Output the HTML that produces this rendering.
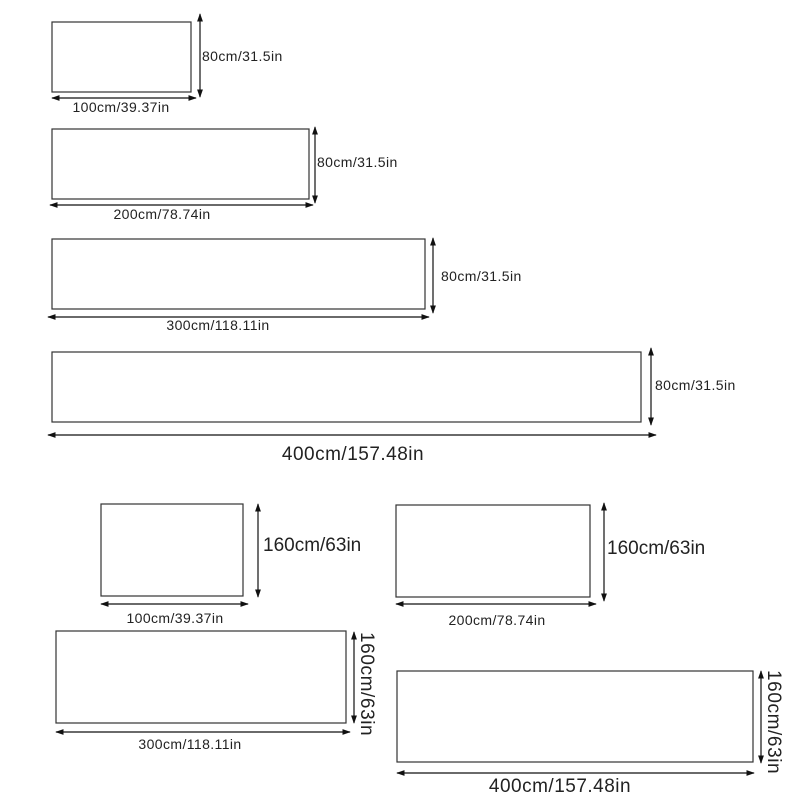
<!DOCTYPE html>
<html><head><style>body{margin:0;background:#fff}svg{display:block}text{font-family:"Liberation Sans",sans-serif;fill:#222}</style></head><body>
<svg width="800" height="800" viewBox="0 0 800 800" xmlns="http://www.w3.org/2000/svg">
<defs><marker id="a" viewBox="0 0 10 10" refX="9" refY="5" markerWidth="7" markerHeight="7" orient="auto-start-reverse"><path d="M0,1.5 L10,5 L0,8.5z" fill="#111"/></marker></defs>
<g fill="none" stroke="#333" stroke-width="1.2">
<rect x="52" y="22" width="139" height="70"/>
<rect x="52" y="129" width="257" height="70"/>
<rect x="52" y="239" width="373" height="70"/>
<rect x="52" y="352" width="589" height="70"/>
<rect x="101" y="504" width="142" height="92"/>
<rect x="396" y="505" width="194" height="92"/>
<rect x="56" y="631" width="290" height="92"/>
<rect x="397" y="671" width="356" height="91"/>
</g>
<g stroke="#111" stroke-width="1.2" marker-start="url(#a)" marker-end="url(#a)">
<line x1="200" y1="14" x2="200" y2="97"/><line x1="52" y1="98" x2="196" y2="98"/>
<line x1="315" y1="127" x2="315" y2="203"/><line x1="50" y1="205" x2="313" y2="205"/>
<line x1="433" y1="238" x2="433" y2="313"/><line x1="48" y1="317" x2="429" y2="317"/>
<line x1="651" y1="348" x2="651" y2="425"/><line x1="48" y1="435" x2="656" y2="435"/>
<line x1="258" y1="504" x2="258" y2="597"/><line x1="101" y1="604" x2="248" y2="604"/>
<line x1="604" y1="503" x2="604" y2="601"/><line x1="396" y1="604" x2="596" y2="604"/>
<line x1="354" y1="632" x2="354" y2="723"/><line x1="56" y1="732" x2="350" y2="732"/>
<line x1="761" y1="671" x2="761" y2="763"/><line x1="397" y1="773" x2="754" y2="773"/>
</g>
<g font-size="14" letter-spacing="0.4">
<text x="202" y="61">80cm/31.5in</text>
<text x="121" y="112" text-anchor="middle">100cm/39.37in</text>
<text x="317" y="167">80cm/31.5in</text>
<text x="162" y="219" text-anchor="middle">200cm/78.74in</text>
<text x="441" y="281">80cm/31.5in</text>
<text x="218" y="330" text-anchor="middle">300cm/118.11in</text>
<text x="655" y="390">80cm/31.5in</text>
<text x="175" y="623" text-anchor="middle">100cm/39.37in</text>
<text x="497" y="625" text-anchor="middle">200cm/78.74in</text>
<text x="190" y="749" text-anchor="middle">300cm/118.11in</text>
</g>
<g font-size="19" letter-spacing="0.5">
<text x="353" y="460" text-anchor="middle">400cm/157.48in</text>
<text x="263" y="551" letter-spacing="0">160cm/63in</text>
<text x="607" y="554" letter-spacing="0">160cm/63in</text>
<text x="560" y="792" text-anchor="middle">400cm/157.48in</text>
</g>
<g font-size="19">
<text transform="translate(361,632) rotate(90)" letter-spacing="0.6">160cm/63in</text>
<text transform="translate(768,670) rotate(90)" letter-spacing="0.6">160cm/63in</text>
</g>
</svg>
</body></html>
